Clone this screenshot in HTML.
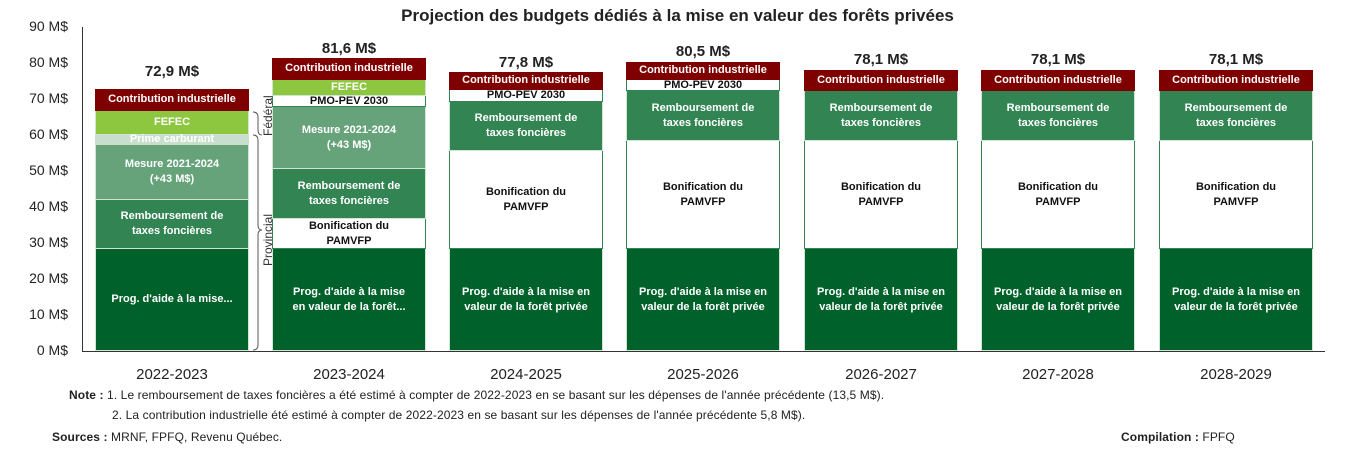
<!DOCTYPE html>
<html><head><meta charset="utf-8"><style>
body{margin:0;width:1355px;height:468px;background:#fff;font-family:"Liberation Sans",sans-serif;position:relative;overflow:hidden;color:#222}
.a{position:absolute}
.s{position:absolute;box-sizing:border-box;display:flex;align-items:center;justify-content:center;text-align:center;font-weight:bold;font-size:11px;line-height:15px;color:#fff;border:1px solid #cfe6d4;border-top:none}
.ci{background:#7f0000;border-color:#7f0000}
.fe{background:#8dc63f}
.pc{background:#c9dfcd;border-color:#c9dfcd}
.me{background:#67a37a}
.re{background:#328452}
.bo{background:#fff;color:#111;border:1px solid #328452;border-top:none}
.pm{background:#fff;color:#111;border:1px solid #328452;border-top:none}
.pr{background:#00622a}
.yl{position:absolute;left:0;width:68px;text-align:right;font-size:14px}
.tot{position:absolute;width:154px;text-align:center;font-weight:bold;font-size:15px}
.xl{position:absolute;width:154px;text-align:center;font-size:15px;top:366px}
.note{position:absolute;font-size:12px;letter-spacing:0.1px}
</style></head><body>
<div class="a" style="left:0;width:1355px;top:6px;text-align:center;font-weight:bold;font-size:17px">Projection des budgets dédiés à la mise en valeur des forêts privées</div>
<div class="yl" style="top:18px">90 M$</div>
<div class="yl" style="top:54px">80 M$</div>
<div class="yl" style="top:90px">70 M$</div>
<div class="yl" style="top:126px">60 M$</div>
<div class="yl" style="top:162px">50 M$</div>
<div class="yl" style="top:198px">40 M$</div>
<div class="yl" style="top:234px">30 M$</div>
<div class="yl" style="top:270px">20 M$</div>
<div class="yl" style="top:306px">10 M$</div>
<div class="yl" style="top:342px">0 M$</div>
<div class="a" style="left:82px;top:27px;width:1px;height:325px;background:#333"></div>
<div class="a" style="left:82px;top:351px;width:1243px;height:1px;background:#333"></div>

<!-- bar1 -->
<div class="tot" style="left:95px;top:63px">72,9 M$</div>
<div class="s ci" style="left:95px;top:89px;width:154px;height:22px">Contribution industrielle</div>
<div class="s fe" style="left:95px;top:111px;width:154px;height:24px">FEFEC</div>
<div class="s pc" style="left:95px;top:135px;width:154px;height:10px">Prime carburant</div>
<div class="s me" style="left:95px;top:145px;width:154px;height:55px">Mesure 2021-2024<br>(+43 M$)</div>
<div class="s re" style="left:95px;top:200px;width:154px;height:49px">Remboursement de<br>taxes foncières</div>
<div class="s pr" style="left:95px;top:249px;width:154px;height:102px">Prog. d'aide à la mise...</div>
<!-- bar2 -->
<div class="tot" style="left:272px;top:40px">81,6 M$</div>
<div class="s ci" style="left:272px;top:58px;width:154px;height:22px">Contribution industrielle</div>
<div class="s fe" style="left:272px;top:80px;width:154px;height:16px">FEFEC</div>
<div class="s pm" style="left:272px;top:96px;width:154px;height:11px">PMO-PEV 2030</div>
<div class="s me" style="left:272px;top:107px;width:154px;height:62px">Mesure 2021-2024<br>(+43 M$)</div>
<div class="s re" style="left:272px;top:169px;width:154px;height:50px">Remboursement de<br>taxes foncières</div>
<div class="s bo" style="left:272px;top:219px;width:154px;height:30px">Bonification du<br>PAMVFP</div>
<div class="s pr" style="left:272px;top:249px;width:154px;height:102px">Prog. d'aide à la mise<br>en valeur de la forêt...</div>
<!-- braces -->
<svg class="a" style="left:250px;top:90px" width="26" height="265">
<path d="M3 22 Q8 22 8 27 L8 40 Q8 45 12 45 Q8 45 8 40" fill="none" stroke="#555" stroke-width="1"/>
<path d="M3 45 Q8 45 8 50 L8 135 Q8 140 12 140 Q8 140 8 145 L8 255 Q8 260 3 260" fill="none" stroke="#555" stroke-width="1"/>
<text transform="translate(22,46) rotate(-90)" font-size="12" fill="#333" font-family="Liberation Sans">Fédéral</text>
<text transform="translate(22,176) rotate(-90)" font-size="12" fill="#333" font-family="Liberation Sans">Provincial</text>
</svg>
<!-- bar3 -->
<div class="tot" style="left:449px;top:54px">77,8 M$</div>
<div class="s ci" style="left:449px;top:72px;width:154px;height:18px">Contribution industrielle</div>
<div class="s pm" style="left:449px;top:90px;width:154px;height:12px">PMO-PEV 2030</div>
<div class="s re" style="left:449px;top:102px;width:154px;height:49px">Remboursement de<br>taxes foncières</div>
<div class="s bo" style="left:449px;top:151px;width:154px;height:98px">Bonification du<br>PAMVFP</div>
<div class="s pr" style="left:449px;top:249px;width:154px;height:102px">Prog. d'aide à la mise en<br>valeur de la forêt privée</div>
<!-- bar4 -->
<div class="tot" style="left:626px;top:43px">80,5 M$</div>
<div class="s ci" style="left:626px;top:62px;width:154px;height:18px">Contribution industrielle</div>
<div class="s pm" style="left:626px;top:80px;width:154px;height:11px">PMO-PEV 2030</div>
<div class="s re" style="left:626px;top:91px;width:154px;height:50px">Remboursement de<br>taxes foncières</div>
<div class="s bo" style="left:626px;top:141px;width:154px;height:108px">Bonification du<br>PAMVFP</div>
<div class="s pr" style="left:626px;top:249px;width:154px;height:102px">Prog. d'aide à la mise en<br>valeur de la forêt privée</div>
<!-- bars 5-7 -->
<div class="tot" style="left:804px;top:51px">78,1 M$</div>
<div class="s ci" style="left:804px;top:70px;width:154px;height:21px">Contribution industrielle</div>
<div class="s re" style="left:804px;top:91px;width:154px;height:50px">Remboursement de<br>taxes foncières</div>
<div class="s bo" style="left:804px;top:141px;width:154px;height:108px">Bonification du<br>PAMVFP</div>
<div class="s pr" style="left:804px;top:249px;width:154px;height:102px">Prog. d'aide à la mise en<br>valeur de la forêt privée</div>

<div class="tot" style="left:981px;top:51px">78,1 M$</div>
<div class="s ci" style="left:981px;top:70px;width:154px;height:21px">Contribution industrielle</div>
<div class="s re" style="left:981px;top:91px;width:154px;height:50px">Remboursement de<br>taxes foncières</div>
<div class="s bo" style="left:981px;top:141px;width:154px;height:108px">Bonification du<br>PAMVFP</div>
<div class="s pr" style="left:981px;top:249px;width:154px;height:102px">Prog. d'aide à la mise en<br>valeur de la forêt privée</div>

<div class="tot" style="left:1159px;top:51px">78,1 M$</div>
<div class="s ci" style="left:1159px;top:70px;width:154px;height:21px">Contribution industrielle</div>
<div class="s re" style="left:1159px;top:91px;width:154px;height:50px">Remboursement de<br>taxes foncières</div>
<div class="s bo" style="left:1159px;top:141px;width:154px;height:108px">Bonification du<br>PAMVFP</div>
<div class="s pr" style="left:1159px;top:249px;width:154px;height:102px">Prog. d'aide à la mise en<br>valeur de la forêt privée</div>

<div class="xl" style="left:95px">2022-2023</div>
<div class="xl" style="left:272px">2023-2024</div>
<div class="xl" style="left:449px">2024-2025</div>
<div class="xl" style="left:626px">2025-2026</div>
<div class="xl" style="left:804px">2026-2027</div>
<div class="xl" style="left:981px">2027-2028</div>
<div class="xl" style="left:1159px">2028-2029</div>

<div class="note" style="left:69px;top:388px"><b>Note :</b> 1. Le remboursement de taxes foncières a été estimé à compter de 2022-2023 en se basant sur les dépenses de l'année précédente (13,5 M$).</div>
<div class="note" style="left:112px;top:408px">2. La contribution industrielle été estimé à compter de 2022-2023 en se basant sur les dépenses de l'année précédente 5,8 M$).</div>
<div class="note" style="left:52px;top:430px"><b>Sources :</b> MRNF, FPFQ, Revenu Québec.</div>
<div class="note" style="left:1121px;top:430px"><b>Compilation :</b> FPFQ</div>
</body></html>
